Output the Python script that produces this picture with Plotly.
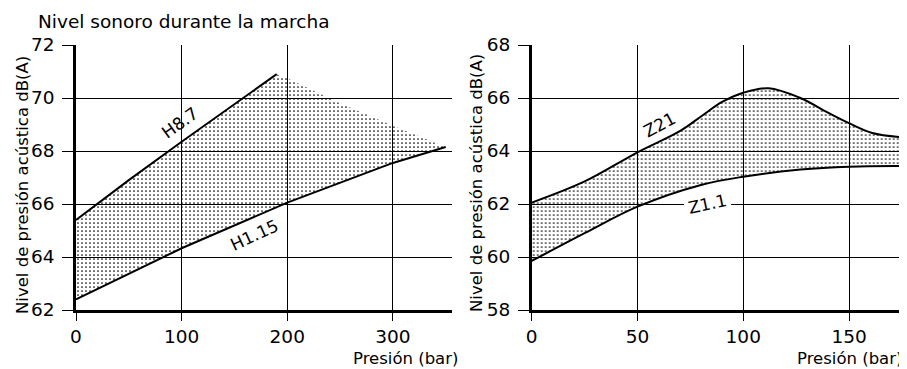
import plotly.graph_objects as go

# ---------------- data ----------------
# Left chart: pressure (bar) vs sound pressure level dB(A)
h87_x = [0, 50, 100, 150, 190]
h87_y = [65.4, 66.9, 68.35, 69.75, 70.9]
h115_x = [0, 100, 200, 300, 350]
h115_y = [62.4, 64.33, 66.05, 67.55, 68.15]
edge_x = [190, 200, 250, 300, 350]
edge_y = [70.9, 70.75, 69.8, 68.95, 68.15]

# Right chart
z21_x = [0, 25, 50, 70, 80, 90, 100, 112, 127, 140, 150, 161, 175]
z21_y = [62.05, 62.85, 63.95, 64.75, 65.3, 65.85, 66.2, 66.37, 66.0, 65.45, 65.05, 64.68, 64.52]
z11_x = [0, 25, 50, 80, 100, 127, 150, 175]
z11_y = [59.85, 60.9, 61.9, 62.72, 63.03, 63.3, 63.41, 63.43]

left_xticks = [0, 100, 200, 300]
left_yticks = [62, 64, 66, 68, 70, 72]
right_xticks = [0, 50, 100, 150]
right_yticks = [58, 60, 62, 64, 66, 68]

title_text = "Nivel sonoro durante la marcha"
ytitle = "Nivel de presión acústica dB(A)"
xtitle = "Presión (bar)"

FONT = "DejaVu Sans"
pattern = dict(shape=".", fgcolor="black", bgcolor="rgba(255,255,255,0)",
               size=4, solidity=0.14, fillmode="replace")

fig = go.Figure()

# left fill (lower boundary then upper boundary)
fig.add_trace(go.Scatter(x=h115_x, y=h115_y, mode="lines", line=dict(width=0, color="black"),
                         xaxis="x", yaxis="y", showlegend=False, hoverinfo="skip"))
fig.add_trace(go.Scatter(x=h87_x + edge_x[1:], y=h87_y + edge_y[1:], mode="lines",
                         line=dict(width=0, color="black"), fill="tonexty",
                         fillcolor="rgba(255,255,255,0)", fillpattern=pattern,
                         xaxis="x", yaxis="y", showlegend=False, hoverinfo="skip"))
fig.add_trace(go.Scatter(x=h87_x, y=h87_y, mode="lines", line=dict(width=2, color="black"),
                         xaxis="x", yaxis="y", showlegend=False))
fig.add_trace(go.Scatter(x=h115_x, y=h115_y, mode="lines", line=dict(width=2, color="black"),
                         xaxis="x", yaxis="y", showlegend=False))

# right fill
fig.add_trace(go.Scatter(x=z11_x, y=z11_y, mode="lines", line=dict(width=2, color="black", shape="spline"),
                         xaxis="x2", yaxis="y2", showlegend=False))
fig.add_trace(go.Scatter(x=z21_x, y=z21_y, mode="lines", line=dict(width=2, color="black", shape="spline"),
                         fill="tonexty", fillcolor="rgba(255,255,255,0)", fillpattern=pattern,
                         xaxis="x2", yaxis="y2", showlegend=False))

axis_common = dict(showgrid=True, gridcolor="black", gridwidth=1.3, zeroline=False,
                   ticks="outside", tickcolor="black", tickwidth=1.3, automargin=False,
                   tickfont=dict(family=FONT, size=18.5, color="black"),
                   showline=True, linecolor="black", linewidth=2.5, mirror=False)

# the page adds an 8px body margin, margins compensate for it
fig.update_layout(
    width=907, height=369,
    margin=dict(l=68, r=8, t=37, b=67, autoexpand=False),
    paper_bgcolor="white", plot_bgcolor="white",
    xaxis=dict(domain=[0, 0.4525], range=[0, 356], tickvals=left_xticks, ticklen=8,
               ticklabelstandoff=0, anchor="y", **axis_common),
    yaxis=dict(domain=[0, 1], range=[62, 72], tickvals=left_yticks, ticklen=11,
               ticklabelstandoff=4, anchor="x", **axis_common),
    xaxis2=dict(domain=[0.5484, 1], range=[0, 177.4], tickvals=right_xticks, ticklen=8,
                ticklabelstandoff=0, anchor="y2", **axis_common),
    yaxis2=dict(domain=[0, 1], range=[58, 68], tickvals=right_yticks, ticklen=11,
                ticklabelstandoff=4, anchor="x2", **axis_common),
    font=dict(family=FONT, color="black"),
)

ann = []
# chart title (centre anchored)
ann.append(dict(text=title_text, xref="paper", yref="paper", x=(184 - 76) / 831, y=1 + (45 - 21) / 265,
                xanchor="center", yanchor="middle", showarrow=False,
                font=dict(family=FONT, size=18.5, color="black")))
# y axis titles
ann.append(dict(text=ytitle, xref="paper", yref="paper", x=(22 - 76) / 831, y=(310 - 185) / 265,
                xanchor="center", yanchor="middle", textangle=-90, showarrow=False,
                font=dict(family=FONT, size=16.5, color="black")))
ann.append(dict(text=ytitle, xref="paper", yref="paper", x=(476 - 76) / 831, y=(310 - 183) / 265,
                xanchor="center", yanchor="middle", textangle=-90, showarrow=False,
                font=dict(family=FONT, size=16.5, color="black")))
# x axis titles
ann.append(dict(text=xtitle, xref="paper", yref="paper", x=(405.5 - 76) / 831, y=(310 - 358) / 265,
                xanchor="center", yanchor="middle", showarrow=False,
                font=dict(family=FONT, size=16.5, color="black")))
ann.append(dict(text=xtitle, xref="paper", yref="paper", x=(849 - 76) / 831, y=(310 - 358) / 265,
                xanchor="center", yanchor="middle", showarrow=False,
                font=dict(family=FONT, size=16.5, color="black")))
# curve labels
ann.append(dict(text="H8.7", xref="x", yref="y", x=98, y=69.06, textangle=-36, showarrow=False,
                font=dict(family=FONT, size=17, color="black")))
ann.append(dict(text="H1.15", xref="x", yref="y", x=169, y=64.83, textangle=-25, showarrow=False,
                font=dict(family=FONT, size=17, color="black")))
ann.append(dict(text="Z21", xref="x2", yref="y2", x=60.2, y=64.98, textangle=-28, showarrow=False,
                font=dict(family=FONT, size=17, color="black")))
ann.append(dict(text="Z1.1", xref="x2", yref="y2", x=83, y=62.0, textangle=-12, showarrow=False,
                bgcolor="white", borderpad=3,
                font=dict(family=FONT, size=17, color="black")))
fig.update_layout(annotations=ann)

fig.write_html("out.html")
